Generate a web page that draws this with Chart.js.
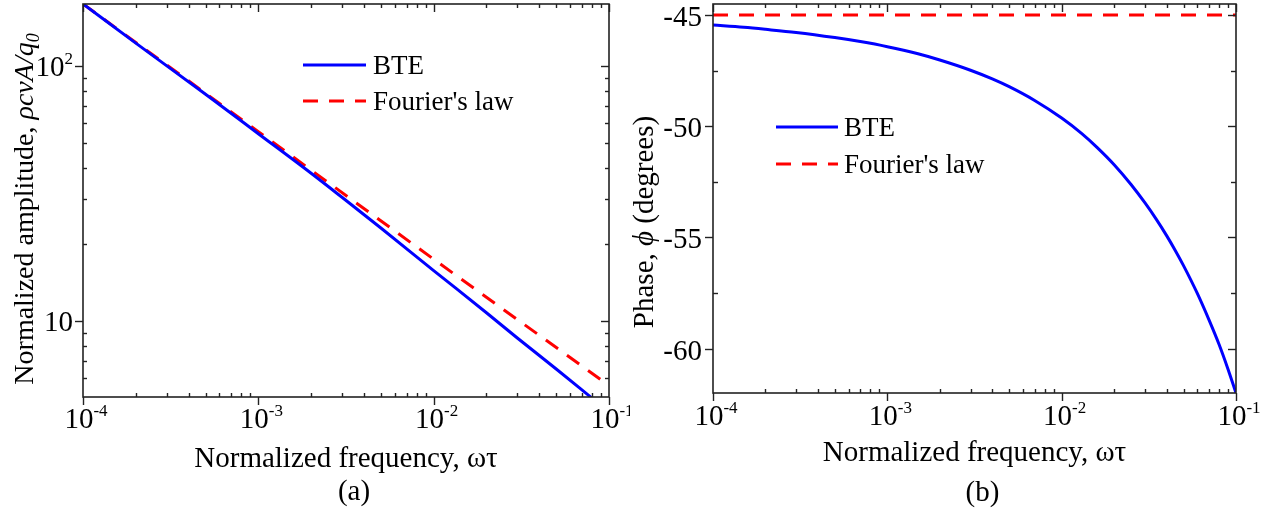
<!DOCTYPE html>
<html><head><meta charset="utf-8">
<script src="https://cdn.jsdelivr.net/npm/chart.js@4"></script>
<style>
html,body{margin:0;padding:0;background:#fff;}
#wrap{position:relative;width:1273px;height:511px;overflow:hidden;}
#c1{position:absolute;left:0;top:0;}
#c2{position:absolute;left:630px;top:0;}
</style></head><body>
<div id="wrap"><canvas id="c1" width="630" height="511"></canvas><canvas id="c2" width="643" height="511"></canvas></div>
<script>
// ---------- data ----------
const seriesNames = ['BTE', "Fourier's law"];
// (a) amplitude
const ampFourierFreq = [1e-4, 1e-3, 1e-2, 1e-1];
const ampFourier     = [175, 55.3, 17.5, 5.6];
const ampBTEFreq = [1e-4, 2e-4, 5e-4, 1e-3, 2e-3, 3e-3, 5e-3, 1e-2, 2e-2, 3e-2, 5e-2, 8e-2];
const ampBTE     = [175, 123, 77.5, 54.3, 38.0, 30.6, 23.2, 15.8, 10.8, 8.6, 6.5, 5.0];
// (b) phase
const phaseBTEFreq = [1e-4, 1.5e-4, 2e-4, 3e-4, 5e-4, 7e-4, 1e-3, 1.5e-3, 2e-3, 3e-3, 4e-3, 5e-3, 7e-3, 1e-2, 1.3e-2, 1.6e-2, 2e-2, 2.5e-2, 3e-2, 3.5e-2, 4e-2, 4.5e-2, 5e-2, 6e-2, 7e-2, 8e-2, 9e-2, 1e-1];
const phaseBTE     = [-45.45, -45.55, -45.64, -45.78, -46.01, -46.19, -46.42, -46.74, -47.02, -47.48, -47.87, -48.22, -48.84, -49.63, -50.32, -50.96, -51.73, -52.62, -53.44, -54.2, -54.92, -55.61, -56.27, -57.52, -58.71, -59.82, -60.93, -62.0];
const phaseFourierFreq = [1e-4, 1e-1];
const phaseFourier     = [-45, -45];
// ticks
const freqTickExps = [-4, -3, -2, -1];
const ampTickValues = [10, 100];
const ampTickBase = ['10', '10'];
const ampTickExp  = ['', '2'];
const phaseTickValues = [-60, -55, -50, -45];
const phaseMinorValues = [-57.5, -52.5, -47.5];

// ---------- helpers ----------
const SERIF = "'Liberation Serif','Times New Roman',serif";
const BLUE = '#0000ff', RED = '#ff0000', AX = '#222';
function pts(xs, ys){ return xs.map((x,i)=>({x:x, y:ys[i]})); }
function font(sz, it){ return (it?'italic ':'') + sz + 'px ' + SERIF; }
function richWidth(ctx, segs){ let w=0; segs.forEach(s=>{ctx.font=font(s.sz,s.it); w+=ctx.measureText(s.t).width;}); return w; }
function drawRich(ctx, segs, x, y, align){
  const w = richWidth(ctx, segs);
  let cx = align==='center' ? x - w/2 : (align==='right' ? x - w : x);
  ctx.textAlign='left'; ctx.textBaseline='alphabetic';
  segs.forEach(s=>{ ctx.font=font(s.sz,s.it); ctx.fillText(s.t, cx, y + (s.dy||0)); cx += ctx.measureText(s.t).width; });
}
function line(ctx,x1,y1,x2,y2){ ctx.beginPath(); ctx.moveTo(x1,y1); ctx.lineTo(x2,y2); ctx.stroke(); }

const TICK=29, TITLE=29, SUP=17, LEG=27, MAJ=8, MIN=4;

function drawFrame(ctx, a){
  ctx.save(); ctx.strokeStyle=AX; ctx.lineWidth=1.6;
  ctx.strokeRect(a.left, a.top, a.right-a.left, a.bottom-a.top);
  ctx.restore();
}
function drawLogX(ctx, sx, a, labelBase){
  ctx.save(); ctx.strokeStyle=AX; ctx.lineWidth=1.4; ctx.fillStyle='#000';
  freqTickExps.forEach((e, idx)=>{
    for(let k=1;k<=9;k++){
      const v = k*Math.pow(10,e);
      if (v > sx.max*1.0001 || v < sx.min*0.9999) continue;
      const p = Math.round(sx.getPixelForValue(v))+0.5;
      if(k===1){ line(ctx,p,a.bottom,p,a.bottom+MAJ); line(ctx,p,a.top,p,a.top+MAJ); }
      else { line(ctx,p,a.bottom,p,a.bottom-MIN); line(ctx,p,a.top,p,a.top+MIN); }
      if(idx===freqTickExps.length-1) break;
    }
    const p = sx.getPixelForValue(Math.pow(10,e));
    drawRich(ctx, [{t:'10', sz:TICK},{t:String(e), sz:SUP, dy:-12}], p+3, labelBase, 'center');
  });
  ctx.restore();
}
function drawLegend(ctx, chart, x1, x2, y0, dy, tx){
  chart.data.datasets.forEach((ds,i)=>{
    const y=y0+i*dy;
    ctx.save(); ctx.strokeStyle=ds.borderColor; ctx.lineWidth=ds.borderWidth; ctx.setLineDash(ds.borderDash||[]);
    line(ctx,x1,y,x2,y); ctx.restore();
    ctx.fillStyle='#000';
    drawRich(ctx,[{t:ds.label, sz:LEG}], tx, y+9, 'left');
  });
}

// ---------- panel (a) ----------
const decorA = {
  id:'decorA',
  afterDraw(chart){
    const ctx=chart.ctx, a=chart.chartArea, sx=chart.scales.x, sy=chart.scales.y;
    ctx.save();
    drawFrame(ctx,a);
    drawLogX(ctx, sx, a, 428);
    ctx.strokeStyle=AX; ctx.lineWidth=1.4; ctx.fillStyle='#000';
    for(let e=0;e<=2;e++) for(let k=1;k<=9;k++){
      const v=k*Math.pow(10,e);
      if(v<sy.min||v>sy.max) continue;
      const p=Math.round(sy.getPixelForValue(v))+0.5;
      if(k===1){ line(ctx,a.left-MAJ,p,a.left,p); line(ctx,a.right-MAJ,p,a.right,p); }
      else { line(ctx,a.left,p,a.left+MIN,p); line(ctx,a.right-MIN,p,a.right,p); }
    }
    ampTickValues.forEach((v,i)=>{
      const p=sy.getPixelForValue(v);
      const segs=[{t:ampTickBase[i], sz:TICK}];
      if(ampTickExp[i]) segs.push({t:ampTickExp[i], sz:SUP, dy:-12});
      drawRich(ctx, segs, a.left-10, p+10, 'right');
    });
    drawRich(ctx,[{t:'Normalized frequency, \u03c9\u03c4', sz:TITLE}], (a.left+a.right)/2, 467, 'center');
    drawRich(ctx,[{t:'(a)', sz:TITLE}], (a.left+a.right)/2+8, 500, 'center');
    ctx.save(); ctx.translate(33, 209); ctx.rotate(-Math.PI/2);
    drawRich(ctx,[{t:'Normalized amplitude, ', sz:28},{t:'\u03c1cvA/q', sz:28, it:true},{t:'0', sz:18, it:true, dy:6}], 0, 0, 'center');
    ctx.restore();
    drawLegend(ctx, chart, 303, 366, 65, 36, 373);
    ctx.restore();
  }
};

// ---------- panel (b) ----------
const decorB = {
  id:'decorB',
  afterDraw(chart){
    const ctx=chart.ctx, a=chart.chartArea, sx=chart.scales.x, sy=chart.scales.y;
    ctx.save();
    drawFrame(ctx,a);
    drawLogX(ctx, sx, a, 425);
    ctx.strokeStyle=AX; ctx.lineWidth=1.4; ctx.fillStyle='#000';
    phaseTickValues.forEach(v=>{
      const p=Math.round(sy.getPixelForValue(v))+0.5;
      line(ctx,a.left-MAJ,p,a.left,p); line(ctx,a.right-MAJ,p,a.right,p);
      drawRich(ctx,[{t:String(v), sz:TICK}], a.left-11, p+10, 'right');
    });
    phaseMinorValues.forEach(v=>{
      const p=Math.round(sy.getPixelForValue(v))+0.5;
      line(ctx,a.left,p,a.left+MIN+1,p); line(ctx,a.right-MIN-1,p,a.right,p);
    });
    drawRich(ctx,[{t:'Normalized frequency, \u03c9\u03c4', sz:TITLE}], (a.left+a.right)/2, 461, 'center');
    drawRich(ctx,[{t:'(b)', sz:TITLE}], (a.left+a.right)/2+8, 501, 'center');
    ctx.save(); ctx.translate(23, 222); ctx.rotate(-Math.PI/2);
    drawRich(ctx,[{t:'Phase, ', sz:29},{t:'\u03d5', sz:29, it:true},{t:' (degrees)', sz:29}], 0, 0, 'center');
    ctx.restore();
    drawLegend(ctx, chart, 146, 208, 127, 37, 214);
    ctx.restore();
  }
};

function baseOptions(padRight, yWidth, xHeight, xmin, xmax, ymin, ymax, ytype){
  return {
    responsive:false, animation:false, devicePixelRatio:1,
    layout:{padding:{left:0, top:4, right:padRight, bottom:0}},
    plugins:{legend:{display:false}, tooltip:{enabled:false}},
    elements:{point:{radius:0}},
    scales:{
      x:{type:'logarithmic', min:xmin, max:xmax, grid:{display:false}, border:{display:false}, ticks:{display:false},
         afterFit(s){ s.height = xHeight; }},
      y:{type:ytype, min:ymin, max:ymax, grid:{display:false}, border:{display:false}, ticks:{display:false},
         afterFit(s){ s.width = yWidth; }}
    }
  };
}

new Chart(document.getElementById('c1'), {
  type:'line',
  data:{datasets:[
    {label:seriesNames[0], data:pts(ampBTEFreq, ampBTE), borderColor:BLUE, borderWidth:3, cubicInterpolationMode:'monotone', pointRadius:0},
    {label:seriesNames[1], data:pts(ampFourierFreq, ampFourier), borderColor:RED, borderWidth:3, borderDash:[15,11], pointRadius:0}
  ]},
  options: baseOptions(630-609, 83, 511-397, 1e-4, 1e-1, 5.05, 175, 'logarithmic'),
  plugins:[decorA]
});

new Chart(document.getElementById('c2'), {
  type:'line',
  data:{datasets:[
    {label:seriesNames[0], data:pts(phaseBTEFreq, phaseBTE), borderColor:BLUE, borderWidth:3, cubicInterpolationMode:'monotone', pointRadius:0},
    {label:seriesNames[1], data:pts(phaseFourierFreq, phaseFourier), borderColor:RED, borderWidth:3, borderDash:[15,11], pointRadius:0}
  ]},
  options: baseOptions(643-606, 83, 511-393, 1e-4, 1e-1, -62, -44.5, 'linear'),
  plugins:[decorB]
});
</script>
</body></html>
